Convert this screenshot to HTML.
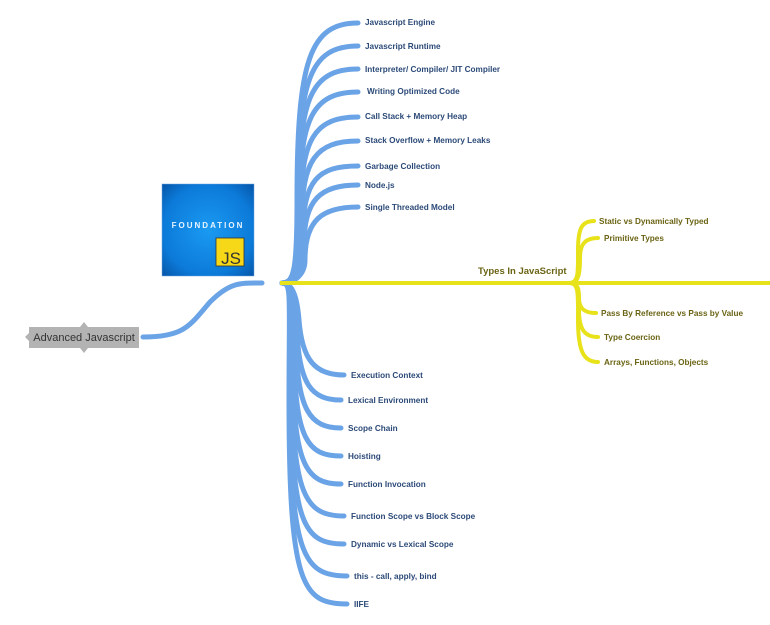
<!DOCTYPE html>
<html><head><meta charset="utf-8"><style>
body{margin:0;background:#fff;width:770px;height:625px;overflow:hidden}
svg{display:block}
text{font-family:"Liberation Sans",sans-serif;font-weight:bold;font-size:8.2px}
.b{fill:#2c4a78}.y{fill:#6b6414}
</style></head><body>
<svg width="770" height="625" xmlns="http://www.w3.org/2000/svg">
<defs>
<radialGradient id="g" cx="0.5" cy="0.5" r="0.7"><stop offset="0" stop-color="#1a9af2"/><stop offset="0.7" stop-color="#0c7ad8"/><stop offset="1" stop-color="#0656a8"/></radialGradient>
</defs>
<g fill="none" stroke="#6aa3e6" stroke-width="5" stroke-linecap="round">
<path d="M143,337 C185,337 190,325 210,302 C230,282 240,283 262,283"/>
<path d="M282,283 C294,283 297,270 297,200 C297,60 310,23 358,23"/>
<path d="M282,283 C294,283 298,270 298,200 C298,80 310,46 358,46"/>
<path d="M282,283 C294,283 299,270 299,200 C299,100 310,69 358,69"/>
<path d="M282,283 C294,283 300,270 300,200 C300,120 312,92 358,92"/>
<path d="M282,283 C294,283 301,270 301,210 C301,140 314,117 358,117"/>
<path d="M282,283 C294,283 302,270 302,220 C302,160 316,141 358,141"/>
<path d="M282,283 C294,283 303,270 303,235 C303,180 318,166 358,166"/>
<path d="M282,283 C294,283 304,270 304,245 C304,200 320,185 358,185"/>
<path d="M282,283 C294,283 305,275 305,260 C305,220 322,207 358,207"/>
<path d="M282,283 C292,283 297,295 299,320 C302,360 315,375 344,375"/>
<path d="M282,283 C292,283 296,295 297,330 C299,385 312,400 341,400"/>
<path d="M282,283 C292,283 295,295 296,340 C297,410 310,428 341,428"/>
<path d="M282,283 C292,283 294,295 294,350 C295,440 308,456 341,456"/>
<path d="M282,283 C292,283 293,295 293,360 C293,465 306,484 341,484"/>
<path d="M282,283 C292,283 292,295 292,370 C292,495 305,516 344,516"/>
<path d="M282,283 C292,283 291,295 291,380 C291,525 304,544 344,544"/>
<path d="M282,283 C292,283 290,295 290,390 C290,555 303,576 347,576"/>
<path d="M282,283 C292,283 289,295 289,400 C289,585 302,604 347,604"/>
</g>
<line x1="280" y1="283" x2="770" y2="283" stroke="#e8e21a" stroke-width="4"/>
<g fill="none" stroke="#e8e21a" stroke-width="4" stroke-linecap="round">
<path d="M570,283 C579,283 578,270 578,250 C578,228 582,221 594,221"/>
<path d="M570,283 C579,283 580,272 580,258 C580,243 586,238 598,238"/>
<path d="M570,283 C579,283 579,292 579,298 C579,309 585,313 596,313"/>
<path d="M570,283 C579,283 579,295 579,310 C579,330 585,337 598,337"/>
<path d="M570,283 C579,283 578,295 578,320 C578,352 584,362 598,362"/>
</g>
<rect x="162" y="184" width="92" height="92" fill="url(#g)" stroke="#6aa3e6" stroke-width="0.5"/>
<text x="208" y="228" text-anchor="middle" fill="#e8f4ff" style="font-size:8px;letter-spacing:2px">FOUNDATION</text>
<rect x="216" y="238" width="28" height="28" fill="#f7d818" stroke="#333" stroke-width="0.8"/>
<text x="231" y="264" text-anchor="middle" fill="#333" style="font-weight:normal;font-size:17px">JS</text>
<polygon points="25,337 29,333 29,327 80,327 84,322 88,327 139,327 139,348 88,348 84,353 80,348 29,348 29,341" fill="#b3b3b3"/>
<text x="84" y="341" text-anchor="middle" fill="#333" style="font-weight:normal;font-size:11px">Advanced Javascript</text>
<g class="b">
<text x="365" y="25">Javascript Engine</text>
<text x="365" y="49">Javascript Runtime</text>
<text x="365" y="72">Interpreter/ Compiler/ JIT Compiler</text>
<text x="367" y="94">Writing Optimized Code</text>
<text x="365" y="119">Call Stack + Memory Heap</text>
<text x="365" y="143">Stack Overflow + Memory Leaks</text>
<text x="365" y="169">Garbage Collection</text>
<text x="365" y="188">Node.js</text>
<text x="365" y="210">Single Threaded Model</text>
<text x="351" y="378">Execution Context</text>
<text x="348" y="403">Lexical Environment</text>
<text x="348" y="431">Scope Chain</text>
<text x="348" y="459">Hoisting</text>
<text x="348" y="487">Function Invocation</text>
<text x="351" y="519">Function Scope vs Block Scope</text>
<text x="351" y="547">Dynamic vs Lexical Scope</text>
<text x="354" y="579">this - call, apply, bind</text>
<text x="354" y="607">IIFE</text>
</g>
<g class="y">
<text x="478" y="274" style="font-size:9.5px">Types In JavaScript</text>
<text x="599" y="224">Static vs Dynamically Typed</text>
<text x="604" y="241">Primitive Types</text>
<text x="601" y="316">Pass By Reference vs Pass by Value</text>
<text x="604" y="340">Type Coercion</text>
<text x="604" y="365">Arrays, Functions, Objects</text>
</g>
</svg>
</body></html>
